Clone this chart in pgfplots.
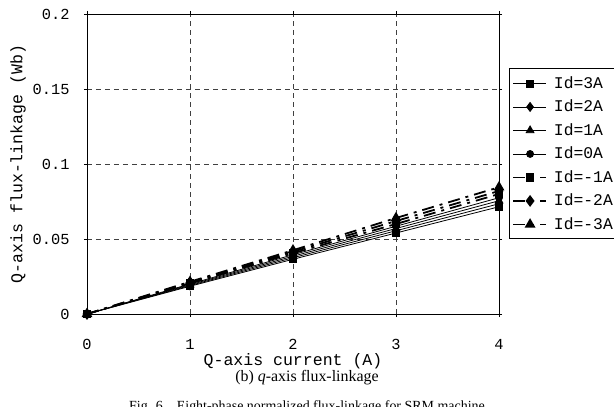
\documentclass[border=0pt]{standalone}
\usepackage{pgfplots}
\pgfplotsset{compat=1.18}
\usepackage{fontspec}
\setmainfont{Liberation Serif}
\newfontfamily\monof{Liberation Mono}
\begin{document}
\begin{tikzpicture}
\path[use as bounding box] (-87bp,-93bp) rectangle (527bp,314bp);
\begin{axis}[
  at={(0bp,0bp)}, anchor=south west,
  scale only axis, width=412bp, height=300bp,
  xmin=0, xmax=4, ymin=0, ymax=0.2,
  xtick={0,1,2,3,4}, ytick={0,0.05,0.1,0.15,0.2},
  xticklabels={0,1,2,3,4},
  yticklabels={0,0.05,0.1,0.15,0.2},
  ticklabel style={font=\monof\fontsize{15.4}{17}\selectfont},
  xticklabel style={anchor=center, yshift=-27bp},
  yticklabel style={anchor=east, xshift=-11bp},
  tick align=outside, tick style={black, thin},
  major tick length=3bp,
  grid=major,
  major grid style={black!75, dash pattern=on 5bp off 4bp, thin},
  axis line style={black, line width=0.9pt},
  xlabel={Q-axis current (A)},
  ylabel={Q-axis flux-linkage (Wb)},
  label style={font=\monof\fontsize{16.6}{18}\selectfont},
  xlabel style={at={(axis description cs:0.5,0)}, anchor=center, yshift=-47bp},
  ylabel style={at={(axis description cs:-0.1675,0.5)}, anchor=center},
  every axis plot/.append style={black, line width=0.8pt},
  legend style={at={(axis description cs:1.024,0.25)}, anchor=south west, draw=black, line width=0.6pt,
    font=\monof\fontsize{16.4}{18}\selectfont, row sep=0bp, inner xsep=3bp, inner ysep=3bp,
    nodes={inner sep=0bp, text height=17bp, text depth=6.5bp},
    cells={anchor=west}},
  legend cell align=left,
  legend image code/.code={%
    \draw[#1, mark repeat=2, mark phase=2] plot coordinates {(0bp,-0.5bp) (17bp,-0.5bp) (33bp,-0.5bp)};
    \path (40bp,-0.5bp);
  },
]
\addplot[mark=square*, mark size=3.5bp, mark options={solid}] coordinates {(0,0) (1,0.0185) (2,0.0365) (3,0.0540) (4,0.0715)};
\addlegendentry{Id=3A}
\addplot[mark=diamond*, mark options={solid}, mark size=4.5bp] coordinates {(0,0) (1,0.0190) (2,0.0375) (3,0.0555) (4,0.0735)};
\addlegendentry{Id=2A}
\addplot[mark=triangle*, mark options={solid}, mark size=4.5bp] coordinates {(0,0) (1,0.0195) (2,0.0385) (3,0.0570) (4,0.0755)};
\addlegendentry{Id=1A}
\addplot[mark=*, mark options={solid}, mark size=3.5bp] coordinates {(0,0) (1,0.0200) (2,0.0395) (3,0.0585) (4,0.0775)};
\addlegendentry{Id=0A}
\addplot[mark=square*, mark size=3.5bp, mark options={solid}, dash pattern=on 12bp off 6bp on 3bp off 6bp, line width=1.8pt] coordinates {(0,0) (1,0.0205) (2,0.0405) (3,0.0600) (4,0.0800)};
\addlegendentry{Id=-1A}
\addplot[mark=diamond*, mark options={solid}, mark size=4.5bp, dash pattern=on 12bp off 6bp on 3bp off 6bp, line width=1.8pt] coordinates {(0,0) (1,0.0210) (2,0.0415) (3,0.0620) (4,0.0820)};
\addlegendentry{Id=-2A}
\addplot[mark=triangle*, mark options={solid}, mark size=4.5bp, dash pattern=on 12bp off 6bp on 3bp off 6bp, line width=1.8pt] coordinates {(0,0) (1,0.0215) (2,0.0425) (3,0.0640) (4,0.0845)};
\addlegendentry{Id=-3A}
\end{axis}
\node[font=\fontsize{16}{18}\selectfont] at (220bp,-64bp) {(b) \textit{q}-axis flux-linkage};
\node[font=\fontsize{14}{16}\selectfont, anchor=base] at (220bp,-96bp) {Fig. 6\quad Eight-phase normalized flux-linkage for SRM machine};
\end{tikzpicture}
\end{document}
